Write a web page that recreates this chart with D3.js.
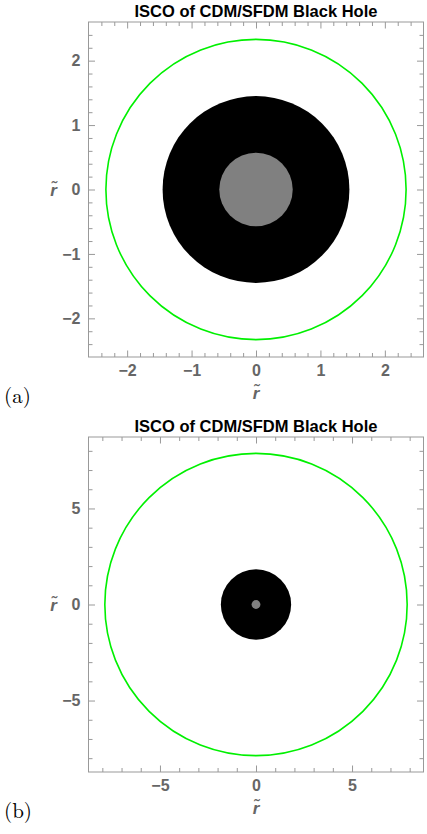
<!DOCTYPE html>
<html>
<head>
<meta charset="utf-8">
<script src="https://cdn.jsdelivr.net/npm/d3@7"></script>
<style>
  body { margin: 0; background: #fff; }
  svg { display: block; }
</style>
</head>
<body>
<svg id="svg" width="427" height="834"></svg>
<script>
// values, one entry per panel
const panelLabels = ["(a)", "(b)"];
const titles = ["ISCO of CDM/SFDM Black Hole", "ISCO of CDM/SFDM Black Hole"];
const axisExtent = [2.6, 8.72];
const majorTicks = [[-2, -1, 0, 1, 2], [-5, 0, 5]];
const minorTicks = [
    [-2.4, -2.2, -1.8, -1.6, -1.4, -1.2, -0.8, -0.6, -0.4, -0.2, 0.2, 0.4, 0.6, 0.8, 1.2, 1.4, 1.6, 1.8, 2.2, 2.4],
    [-8, -7, -6, -4, -3, -2, -1, 1, 2, 3, 4, 6, 7, 8]
];
const iscoRadius = [2.33, 7.87];
const horizonRadius = [1.45, 1.83];
const coreRadius = [0.57, 0.23];

const svg = d3.select("#svg");
const frameTop = [22, 437];
const frameLeft = 88.5;
const frameSize = 335;
const axisGray = "#999";
const labelGray = "#666";
const sans = "Liberation Sans, Arial, sans-serif";

function drawPanel(i) {
    let ext = axisExtent[i];
    let x = d3.scaleLinear().domain([-ext, ext]).range([0, frameSize]);
    let y = d3.scaleLinear().domain([-ext, ext]).range([frameSize, 0]);
    let g = svg.append("g").attr("transform", `translate(${frameLeft},${frameTop[i]})`);
    let px = (r) => x(r) - x(0);

    // green ISCO ring, black horizon, grey core
    g.append("circle").attr("cx", x(0)).attr("cy", y(0)).attr("r", px(iscoRadius[i]))
        .attr("fill", "none").attr("stroke", "#00f000").attr("stroke-width", 1.6);
    g.append("circle").attr("cx", x(0)).attr("cy", y(0)).attr("r", px(horizonRadius[i]))
        .attr("fill", "#000");
    g.append("circle").attr("cx", x(0)).attr("cy", y(0)).attr("r", px(coreRadius[i]))
        .attr("fill", "#808080");

    // inward ticks on all four sides, labels only bottom and left
    let fmt = d => d < 0 ? "\u2212" + Math.abs(d) : d;
    let sides = [
        { axis: d3.axisBottom(x), tr: `translate(0,${frameSize})`, label: true },
        { axis: d3.axisTop(x), tr: "translate(0,0)", label: false },
        { axis: d3.axisLeft(y), tr: "translate(0,0)", label: true },
        { axis: d3.axisRight(y), tr: `translate(${frameSize},0)`, label: false }
    ];
    sides.forEach(s => {
        g.append("g").attr("transform", s.tr)
            .call(s.axis.tickValues(minorTicks[i]).tickSize(-4).tickFormat(""))
            .call(a => a.select(".domain").remove())
            .call(a => a.selectAll("text").remove())
            .selectAll("line").attr("stroke", axisGray);
        let major = g.append("g").attr("transform", s.tr)
            .call(s.axis.tickValues(majorTicks[i]).tickSize(-6.5).tickPadding(8)
                .tickFormat(s.label ? fmt : ""));
        major.select(".domain").remove();
        major.selectAll("line").attr("stroke", axisGray);
        if (!s.label) major.selectAll("text").remove();
        major.selectAll("text")
            .attr("font-family", sans)
            .attr("font-weight", "bold").attr("font-size", 16).attr("fill", labelGray);
    });

    g.append("rect").attr("width", frameSize).attr("height", frameSize)
        .attr("fill", "none").attr("stroke", axisGray).attr("stroke-width", 1);

    g.append("text").attr("x", x(0)).attr("y", -5.5)
        .attr("text-anchor", "middle")
        .attr("font-family", sans)
        .attr("font-weight", "bold").attr("font-size", 16.5).attr("fill", "#000")
        .text(titles[i]);

    g.append("text").attr("x", x(0)).attr("y", frameSize + 42)
        .attr("text-anchor", "middle")
        .attr("font-family", sans)
        .attr("font-style", "italic").attr("font-weight", "bold")
        .attr("font-size", 17).attr("fill", labelGray)
        .text("r\u0303");
    g.append("text").attr("x", -35).attr("y", y(0) + 6)
        .attr("text-anchor", "middle")
        .attr("font-family", sans)
        .attr("font-style", "italic").attr("font-weight", "bold")
        .attr("font-size", 17).attr("fill", labelGray)
        .text("r\u0303");

    svg.append("text").attr("x", 4).attr("y", frameTop[i] + frameSize + 46)
        .attr("font-family", "Latin Modern Roman, DejaVu Serif, serif")
        .attr("font-size", 21).attr("fill", "#000")
        .text(panelLabels[i]);
}

[0, 1].forEach(drawPanel);
</script>
</body>
</html>
